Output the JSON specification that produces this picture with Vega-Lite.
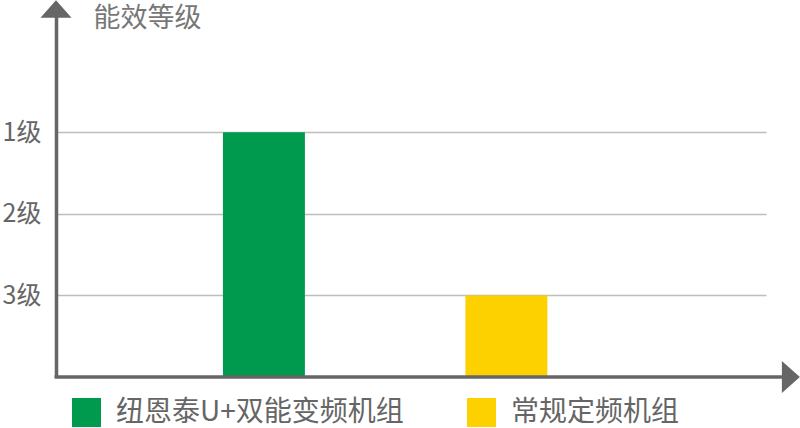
{
  "$schema": "https://vega.github.io/schema/vega-lite/v6.json",
  "width": 710,
  "height": 367,
  "autosize": {"type": "none"},
  "padding": {"left": 56, "top": 10, "right": 34, "bottom": 51},
  "background": "white",
  "config": {
    "font": "Noto Sans CJK SC",
    "view": {"stroke": null}
  },
  "data": {
    "values": [
      {"unit": "纽恩泰U+双能变频机组", "level": "1级", "score": 3},
      {"unit": "常规定频机组", "level": "3级", "score": 1}
    ]
  },
  "resolve": {"scale": {"x": "independent"}},
  "layer": [
    {
      "mark": {"type": "bar"},
      "encoding": {
        "x": {
          "field": "unit",
          "type": "nominal",
          "sort": null,
          "scale": {"paddingInner": 0.662, "paddingOuter": 0.795, "align": 0.433},
          "axis": null
        },
        "y": {
          "field": "score",
          "type": "quantitative",
          "scale": {"domain": [0, 4.5], "nice": false},
          "axis": {
            "values": [1, 2, 3],
            "labelExpr": "(4 - datum.value) + '级'",
            "grid": true,
            "gridColor": "#bdbdbd",
            "gridWidth": 1.5,
            "domain": true,
            "domainColor": "#666666",
            "domainWidth": 3.5,
            "ticks": false,
            "labelFontSize": 25,
            "labelColor": "#666666",
            "labelPadding": 15,
            "title": "能效等级",
            "titleAngle": 0,
            "titleAlign": "left",
            "titleBaseline": "top",
            "titleX": 37,
            "titleY": -5,
            "titleFontSize": 27,
            "titleFontWeight": "normal",
            "titleColor": "#777777"
          }
        },
        "color": {
          "field": "unit",
          "type": "nominal",
          "scale": {
            "domain": ["纽恩泰U+双能变频机组", "常规定频机组"],
            "range": ["#009A4E", "#FDD000"]
          },
          "legend": {
            "title": null,
            "orient": "none",
            "direction": "horizontal",
            "legendX": 16,
            "legendY": 388,
            "padding": 0,
            "symbolType": "square",
            "symbolSize": 841,
            "symbolStrokeWidth": 0,
            "symbolOpacity": 1,
            "labelFontSize": 28,
            "labelColor": "#666666",
            "labelOffset": 15,
            "labelLimit": 500,
            "columnPadding": 63
          }
        }
      }
    },
    {
      "data": {"values": [{}]},
      "mark": {"type": "rule", "color": "#666666", "strokeWidth": 3.5},
      "encoding": {
        "x": {"datum": -0.002, "type": "quantitative", "scale": {"domain": [0, 1], "nice": false}, "axis": null},
        "x2": {"datum": 1.0225},
        "y": {"datum": 0, "type": "quantitative", "scale": {"domain": [0, 4.5], "nice": false}}
      }
    },
    {
      "data": {"values": [{}]},
      "mark": {"type": "point", "filled": true, "color": "#666666", "opacity": 1, "size": 1024, "shape": "M-0.5625,-1L0.5625,0L-0.5625,1Z"},
      "encoding": {
        "x": {"datum": 1.035, "type": "quantitative", "scale": {"domain": [0, 1], "nice": false}, "axis": null},
        "y": {"datum": 0, "type": "quantitative", "scale": {"domain": [0, 4.5], "nice": false}}
      }
    },
    {
      "data": {"values": [{}]},
      "mark": {"type": "point", "filled": true, "color": "#666666", "opacity": 1, "size": 961, "shape": "M-1,0.5625L0,-0.5625L1,0.5625Z"},
      "encoding": {
        "x": {"datum": 0, "type": "quantitative", "scale": {"domain": [0, 1], "nice": false}, "axis": null},
        "y": {"datum": 4.512, "type": "quantitative", "scale": {"domain": [0, 4.5], "nice": false}}
      }
    }
  ]
}
